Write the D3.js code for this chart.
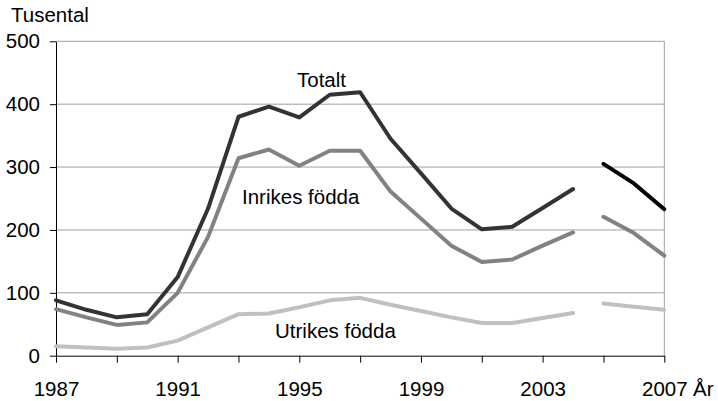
<!DOCTYPE html>
<html lang="sv">
<head>
<meta charset="UTF-8">
<title>Tusental</title>
<script src="https://d3js.org/d3.v7.min.js"></script>
<style>
    body { margin: 0; background: #fff; }
    svg text { font-family: "Liberation Sans", Arial, sans-serif; font-size: 20.5px; fill: #000; }
</style>
</head>
<body>
<svg id="chart" width="718" height="401"></svg>
<script>
    // data (tusental)
    let years   = d3.range(1987, 2008)
    let totalt  = [88, 73, 61, 66, 125, 234, 380, 396, 379, 415, 419, 345, 290, 234, 201, 205, 235, 265, 305, 274, 233]
    let inrikes = [74, 61, 49, 53, 100, 189, 314, 328, 302, 326, 326, 261, 218, 175, 149, 153, 175, 196, 221, 195, 159]
    let utrikes = [15, 13, 11, 13, 24, 45, 66, 67, 77, 88, 92, 81, 71, 61, 52, 52, 60, 68, 83, 78, 73]
    let yTicks  = [0, 100, 200, 300, 400, 500]
    let xLabels = [1987, 1991, 1995, 1999, 2003, 2007]
    let breakYear = 2005   // series is broken between 2004 and 2005

    let svg = d3.select("#chart")
    let pLeft = 56, pRight = 664.3, pTop = 41.3, pBottom = 355.7

    let x = d3.scaleLinear().domain([1987, 2007]).range([pLeft, pRight])
    let y = d3.scaleLinear().domain([0, 500]).range([pBottom, pTop])

    // grid
    svg.append("g")
        .selectAll("line")
        .data(yTicks.filter(d => d > 0))
        .join("line")
        .attr("x1", pLeft).attr("x2", pRight)
        .attr("y1", d => y(d)).attr("y2", d => y(d))
        .attr("stroke", "#a0a0a0").attr("stroke-width", 1)
    // right border
    svg.append("line")
        .attr("x1", pRight).attr("x2", pRight).attr("y1", pTop).attr("y2", pBottom)
        .attr("stroke", "#a0a0a0")

    // y axis
    let yAxis = svg.append("g")
        .attr("transform", `translate(${pLeft},0)`)
        .call(d3.axisLeft(y).tickValues(yTicks).tickSize(6).tickSizeOuter(0).tickPadding(10))
    yAxis.select(".domain").attr("stroke", "#000")
    yAxis.selectAll(".tick line").attr("stroke", "#000")
    yAxis.selectAll("text").attr("font-size", null).attr("font-family", null).attr("fill", "#000")

    // x axis
    let xAxis = svg.append("g")
        .attr("transform", `translate(0,${pBottom})`)
        .call(d3.axisBottom(x).tickValues(d3.range(1987, 2008, 2)).tickSize(7).tickSizeOuter(0)
            .tickFormat(d => xLabels.includes(d) ? d : ""))
    xAxis.select(".domain").attr("stroke", "#000")
    xAxis.selectAll(".tick line").attr("stroke", "#000")
    xAxis.selectAll("text").attr("font-size", null).attr("font-family", null).attr("fill", "#000")
        .attr("y", 0).attr("dy", null).attr("transform", "translate(0,40)")

    svg.append("text").attr("x", 11).attr("y", 22).text("Tusental")
    svg.append("text").attr("x", 693).attr("y", pBottom + 40).text("År")

    // lines, drawn in two pieces around the break
    let line = d3.line().x(d => x(d[0])).y(d => y(d[1]))
    function pieces(vals) {
        let pts = years.map((yr, i) => [yr, vals[i]])
        return [pts.filter(p => p[0] < breakYear), pts.filter(p => p[0] >= breakYear)]
    }
    let series = [
        {vals: utrikes, colors: ["#c0c0c0", "#c0c0c0"]},
        {vals: inrikes, colors: ["#828282", "#828282"]},
        {vals: totalt,  colors: ["#333333", "#000000"]}
    ]
    series.forEach(s => {
        pieces(s.vals).forEach((p, k) => {
            svg.append("path")
                .attr("d", line(p))
                .attr("fill", "none")
                .attr("stroke", s.colors[k])
                .attr("stroke-width", 4)
                .attr("stroke-linejoin", "round")
                .attr("stroke-linecap", "round")
        })
    })

    // series labels
    svg.append("text").attr("x", 297).attr("y", 86.5).text("Totalt")
    svg.append("text").attr("x", 242).attr("y", 203.5).text("Inrikes födda")
    svg.append("text").attr("x", 275).attr("y", 337.5).text("Utrikes födda")
</script>
</body>
</html>
